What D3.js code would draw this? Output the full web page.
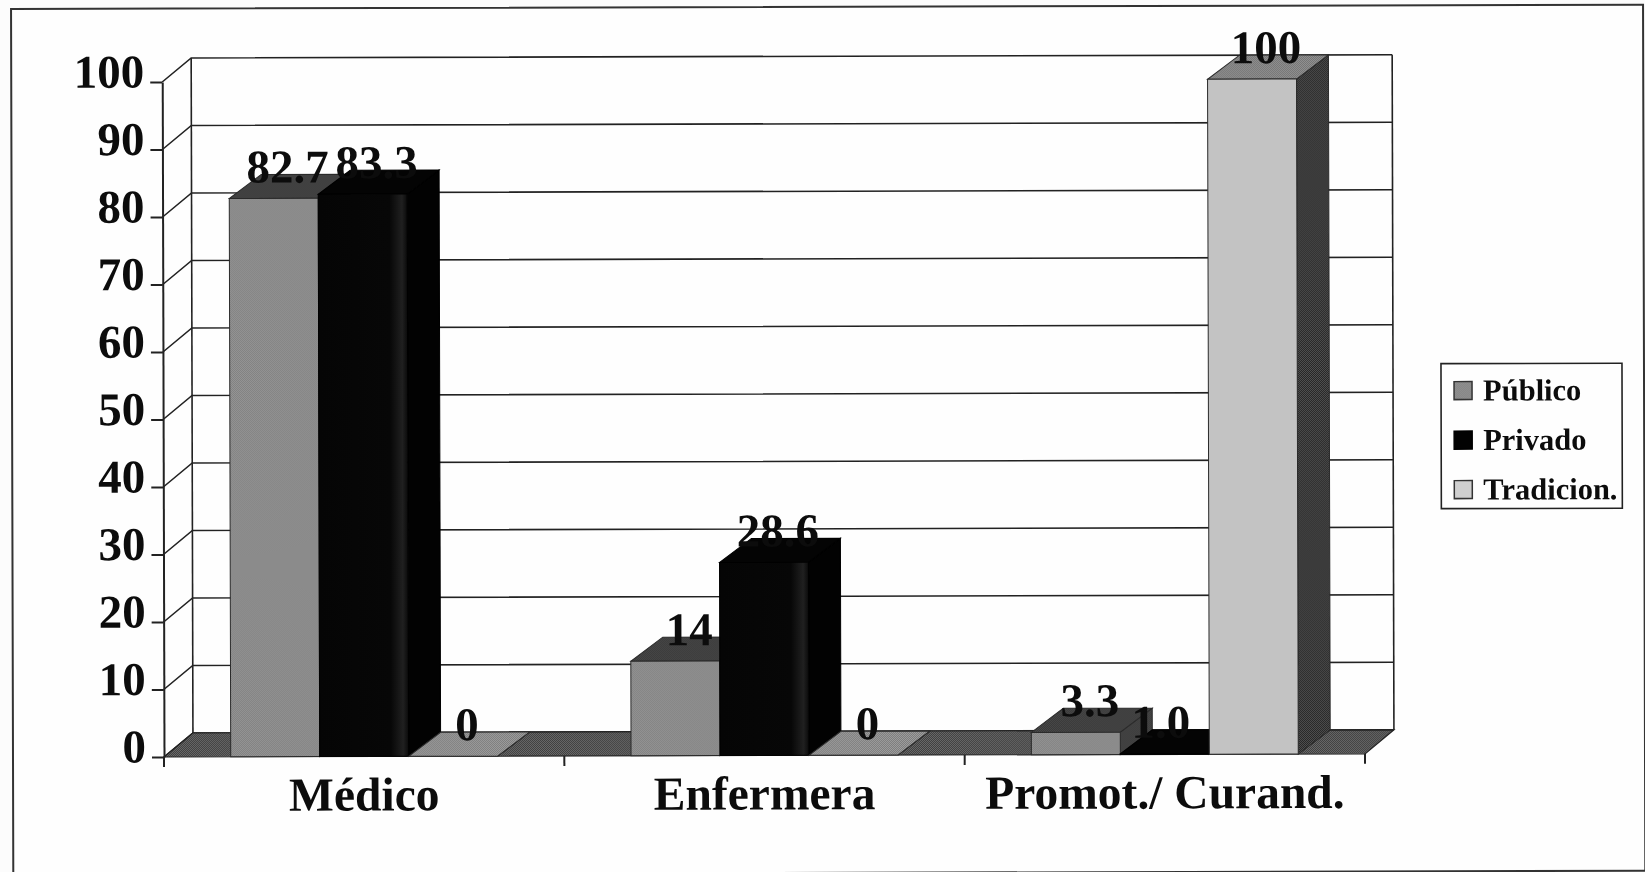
<!DOCTYPE html>
<html><head><meta charset="utf-8">
<script src="https://cdn.jsdelivr.net/npm/d3@7"></script>
<style>
html,body{margin:0;padding:0;background:#fcfcfc;overflow:hidden}
svg{display:block;filter:blur(0.55px)}
text{font-family:"Liberation Serif",serif;font-weight:bold;fill:#0c0c0c}
</style></head><body><svg id="c" width="1645" height="872"></svg>
<script>
const categories = ["Médico","Enfermera","Promot./ Curand."];
const seriesNames = ["Público","Privado","Tradicion."];
const publico = [82.7,14,3.3];
const privado = [83.3,28.6,0.1];
const tradicion = [0,0,100];
const publicoLabels = ["82.7","14","3.3"];
const privadoLabels = ["83.3","28.6","1.0"];
const tradicionLabels = ["0","0","100"];
const yTicks = [0,10,20,30,40,50,60,70,80,90,100];

const svg = d3.select("#c");
const defs = svg.append("defs");
function stipple(id,a,b){
  const p = defs.append("pattern").attr("id",id).attr("width",2).attr("height",2).attr("patternUnits","userSpaceOnUse");
  p.append("rect").attr("width",2).attr("height",2).attr("fill",a);
  p.append("rect").attr("width",1).attr("height",1).attr("fill",b);
  p.append("rect").attr("x",1).attr("y",1).attr("width",1).attr("height",1).attr("fill",b);
}
stipple("pubF","#7c7c7c","#9a9a9a");
stipple("dark","#2c2c2c","#555555");
stipple("floor","#3f3f3f","#696969");
stipple("zero","#7a7a7a","#a0a0a0");
stipple("tradS","#262626","#505050");
stipple("tradT","#6e6e6e","#989898");
const g0 = defs.append("linearGradient").attr("id","privF");
[[0,"#050505"],[0.8,"#070707"],[0.94,"#202020"],[1,"#0a0a0a"]].forEach(s=>g0.append("stop").attr("offset",s[0]).attr("stop-color",s[1]));

const faces = [
  {front:"url(#pubF)",top:"url(#dark)",side:"url(#dark)",stroke:"#2a2a2a"},
  {front:"url(#privF)",top:"#040404",side:"#020202",stroke:"#000"},
  {front:"#c3c3c3",top:"url(#tradT)",side:"url(#tradS)",stroke:"#2a2a2a"}
];
const zeroTop = "url(#zero)";
const values = [publico,privado,tradicion];
const labels = [publicoLabels,privadoLabels,tradicionLabels];

const root = svg.append("g").attr("transform","rotate(-0.15 165 757)");
root.append("rect").attr("x",13).attr("y",8.6).attr("width",1632).attr("height",866)
  .attr("fill","#fefefe").attr("stroke","#333").attr("stroke-width",2);

const x0 = d3.scaleBand().domain(categories).range([164,1365]);
const x1 = d3.scaleBand().domain(seriesNames).range([0,x0.bandwidth()]).paddingInner(0).paddingOuter(0.75);
const y = d3.scaleLinear().domain([0,100]).range([757,82]);
const wallDX = 29, wallDY = -24, barDX = 32;
const line = "#222";

// Walls and gridlines
const walls = root.append("g").attr("stroke",line).attr("stroke-width",1.6).attr("fill","none");
walls.selectAll("path.grid").data(yTicks).join("path").attr("class","grid")
  .attr("d",t=>`M${x0.range()[0]},${y(t)}L${x0.range()[0]+wallDX},${y(t)+wallDY}L${x0.range()[1]+wallDX},${y(t)+wallDY}`);
walls.append("path").attr("d",`M${x0.range()[0]+wallDX},${y(0)+wallDY}V${y(100)+wallDY}`);
walls.append("path").attr("d",`M${x0.range()[1]+wallDX},${y(0)+wallDY}V${y(100)+wallDY}`);

// Floor
const floorPts = [[x0.range()[0],y(0)],[x0.range()[1],y(0)],[x0.range()[1]+wallDX,y(0)+wallDY],[x0.range()[0]+wallDX,y(0)+wallDY]];
root.append("polygon").attr("points",floorPts.join(" ")).attr("fill","url(#floor)").attr("stroke",line).attr("stroke-width",1.2);

// Axes
const yAxis = d3.axisLeft(y).tickValues(yTicks).tickSize(12).tickSizeOuter(0);
const ya = root.append("g").attr("transform",`translate(${x0.range()[0]},0)`).call(yAxis);
ya.selectAll("path,line").attr("stroke",line).attr("stroke-width",2);
ya.selectAll("text").attr("x",-18).attr("dy","5px").style("font-size","47px").attr("fill","#0c0c0c");

const xAxis = d3.axisBottom(x0).tickSize(0);
const xa = root.append("g").attr("transform",`translate(0,${y(0)})`).call(xAxis);
xa.select("path").remove();
xa.selectAll("text").attr("y",54).attr("dy",0).style("font-size","47.5px").attr("fill","#0c0c0c");
const boundaries = categories.map(c=>x0(c)).concat([x0.range()[1]]);
root.append("g").selectAll("line").data(boundaries).join("line")
  .attr("x1",d=>d).attr("x2",d=>d).attr("y1",y(0)).attr("y2",y(0)+10).attr("stroke",line).attr("stroke-width",2);

// Bars, left to right; each label is overdrawn by the bars that follow it
const bars = root.append("g");
categories.forEach((c,ci)=>{
  seriesNames.forEach((s,si)=>{
    const v = values[si][ci], f = faces[si];
    const xl = x0(c)+x1(s), xr = xl+x1.bandwidth(), yt = y(v), yb = y(0);
    const g = bars.append("g").attr("stroke",f.stroke).attr("stroke-width",1);
    g.append("polygon").attr("points",[[xr,yb],[xr+barDX,yb+wallDY],[xr+barDX,yt+wallDY],[xr,yt]].join(" ")).attr("fill",f.side);
    g.append("polygon").attr("points",[[xl,yt],[xr,yt],[xr+barDX,yt+wallDY],[xl+barDX,yt+wallDY]].join(" ")).attr("fill",v===0?zeroTop:f.top);
    if(v>0) g.append("rect").attr("x",xl).attr("y",yt).attr("width",x1.bandwidth()).attr("height",yb-yt).attr("fill",f.front);
    const label = labels[si][ci];
    const crampedShift = label==="1.0" ? -18 : 0;
    bars.append("text").attr("x",(xl+xr)/2+14+crampedShift).attr("y",yt-16).attr("text-anchor","middle")
      .style("font-size","47px").text(label);
  });
});

// Legend
const swatches = [
  {fill:"url(#pubF)",stroke:"#333"},
  {fill:"#020202",stroke:"#000"},
  {fill:"#cfcfcf",stroke:"#333"}
];
const legendRows = d3.scalePoint().domain(seriesNames).range([394,493]);
const lg = root.append("g");
lg.append("rect").attr("x",1442).attr("y",367).attr("width",181).attr("height",145).attr("fill","#fefefe").attr("stroke","#222").attr("stroke-width",1.6);
seriesNames.forEach((s,i)=>{
  lg.append("rect").attr("x",1455).attr("y",legendRows(s)-9).attr("width",18).attr("height",18)
    .attr("fill",swatches[i].fill).attr("stroke",swatches[i].stroke).attr("stroke-width",1.5);
  lg.append("text").attr("x",1484).attr("y",legendRows(s)+10).style("font-size","30.5px").text(s);
});
</script></body></html>
